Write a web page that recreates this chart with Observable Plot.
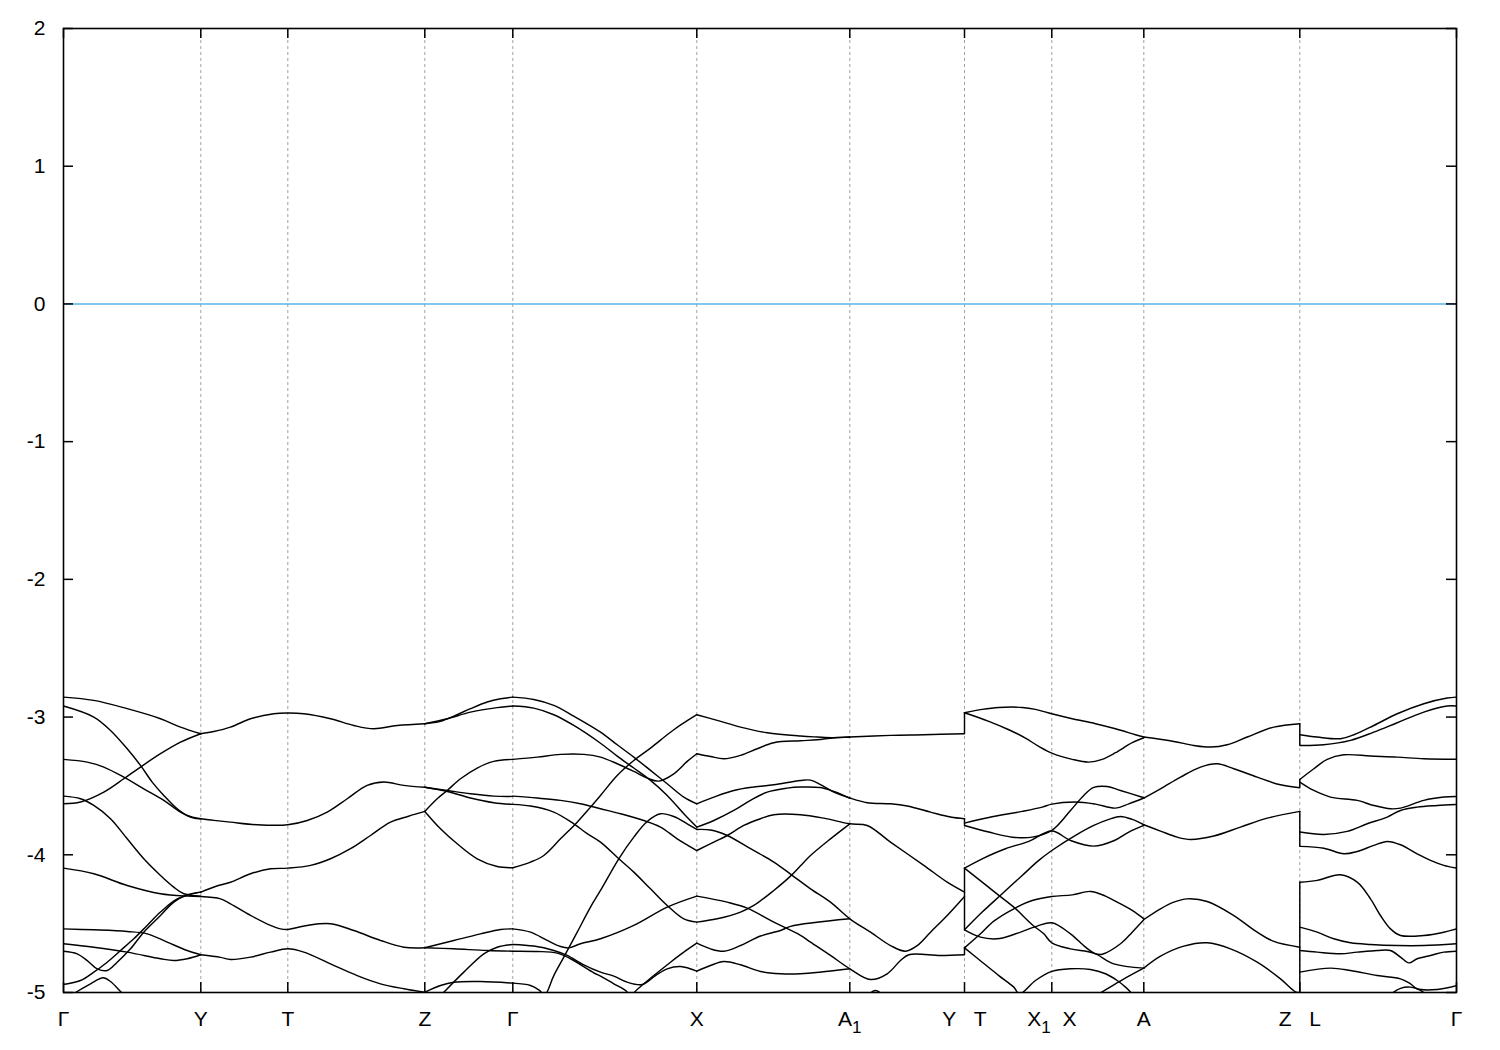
<!DOCTYPE html>
<html><head><meta charset="utf-8">
<script src="https://cdn.jsdelivr.net/npm/d3@7"></script>
<script src="https://cdn.jsdelivr.net/npm/@observablehq/plot@0.6"></script>
<style>body{margin:0;background:#fff;} svg{display:block}</style>
</head><body><div id="chart"></div>
<script>
// high-symmetry points along the k-path
const kPoints = [0, 1.373, 2.243, 3.613, 4.493, 6.333, 7.863, 9.01, 9.883, 10.803, 12.363, 13.93];
const kLabels = [["Γ"],["Y"],["T"],["Z"],["Γ"],["X"],["A","1"],["Y   T"],["X","1","  X"],["A"],["Z   L"],["Γ"]];
const yTicks = [-5, -4, -3, -2, -1, 0, 1, 2];
const fermiLevel = [0];

// band energies (eV) along each path segment: [k, E]
const segGY = [
 [[0,-2.855],[0.303,-2.879],[0.637,-2.939],[0.97,-3.012],[1.17,-3.073],[1.373,-3.121]],
 [[0,-2.92],[0.303,-3.0],[0.47,-3.097],[0.637,-3.23],[0.77,-3.351],[0.887,-3.472],[1.003,-3.569],[1.137,-3.666],[1.237,-3.714],[1.373,-3.738]],
 [[0,-3.307],[0.237,-3.327],[0.403,-3.363],[0.603,-3.436],[0.803,-3.521],[1.003,-3.605],[1.17,-3.69],[1.303,-3.734],[1.373,-3.738]],
 [[0,-3.574],[0.17,-3.593],[0.303,-3.642],[0.47,-3.738],[0.637,-3.884],[0.803,-4.029],[0.97,-4.15],[1.103,-4.235],[1.203,-4.283],[1.373,-4.30]],
 [[0,-3.63],[0.17,-3.617],[0.403,-3.545],[0.603,-3.448],[0.77,-3.363],[0.97,-3.266],[1.17,-3.182],[1.373,-3.121]],
 [[0,-4.097],[0.303,-4.138],[0.637,-4.223],[0.97,-4.283],[1.237,-4.30],[1.373,-4.303]],
 [[0,-4.538],[0.303,-4.545],[0.637,-4.557],[0.837,-4.574],[1.037,-4.634],[1.237,-4.695],[1.373,-4.726]],
 [[0,-4.646],[0.303,-4.671],[0.637,-4.707],[0.97,-4.755],[1.103,-4.768],[1.237,-4.755],[1.373,-4.726]],
 [[0,-4.70],[0.137,-4.719],[0.237,-4.768],[0.337,-4.828],[0.437,-4.84],[0.537,-4.78],[0.67,-4.683],[0.803,-4.562],[0.97,-4.441],[1.103,-4.344],[1.237,-4.29],[1.373,-4.271]],
 [[0,-4.942],[0.17,-4.913],[0.303,-4.852],[0.437,-4.78],[0.57,-4.695],[0.703,-4.61],[0.837,-4.513],[0.97,-4.416],[1.137,-4.32],[1.373,-4.271]],
 [[0.04,-5.03],[0.137,-4.993],[0.27,-4.937],[0.397,-4.893],[0.47,-4.92],[0.57,-4.993],[0.62,-5.03]]
];
const segYTZ = [
 [[1.373,-3.121],[1.503,-3.105],[1.67,-3.073],[1.87,-3.012],[2.103,-2.976],[2.243,-2.971],[2.403,-2.976],[2.67,-3.012],[2.903,-3.061],[3.103,-3.085],[3.337,-3.061],[3.613,-3.048]],
 [[1.373,-3.738],[1.503,-3.75],[1.67,-3.763],[1.937,-3.782],[2.243,-3.782],[2.437,-3.751],[2.637,-3.69],[2.837,-3.593],[3.037,-3.496],[3.203,-3.472],[3.403,-3.496],[3.613,-3.51]],
 [[1.373,-4.271],[1.52,-4.23],[1.67,-4.199],[1.87,-4.138],[2.07,-4.102],[2.243,-4.097],[2.47,-4.077],[2.67,-4.029],[2.87,-3.956],[3.07,-3.86],[3.27,-3.763],[3.45,-3.72],[3.613,-3.685]],
 [[1.373,-4.303],[1.57,-4.32],[1.67,-4.356],[1.87,-4.44],[2.07,-4.513],[2.17,-4.538],[2.243,-4.542],[2.437,-4.513],[2.67,-4.501],[2.903,-4.55],[3.17,-4.622],[3.403,-4.671],[3.613,-4.675]],
 [[1.373,-4.726],[1.57,-4.745],[1.67,-4.76],[1.87,-4.743],[2.07,-4.707],[2.243,-4.683],[2.403,-4.707],[2.67,-4.792],[2.937,-4.877],[3.17,-4.937],[3.403,-4.973],[3.613,-4.998]]
];
const segZG = [
 [[3.613,-3.048],[3.77,-3.031],[3.903,-2.993],[4.07,-2.939],[4.237,-2.891],[4.37,-2.867],[4.493,-2.855]],
 [[3.613,-3.048],[3.837,-3.012],[4.07,-2.964],[4.303,-2.935],[4.493,-2.92]],
 [[3.613,-3.51],[3.837,-3.533],[4.07,-3.557],[4.303,-3.574],[4.493,-3.576]],
 [[3.613,-3.51],[3.837,-3.54],[4.07,-3.588],[4.303,-3.622],[4.493,-3.634]],
 [[3.613,-3.685],[3.737,-3.593],[3.837,-3.533],[3.97,-3.448],[4.137,-3.37],[4.303,-3.322],[4.493,-3.307]],
 [[3.613,-3.685],[3.77,-3.811],[3.937,-3.92],[4.137,-4.029],[4.337,-4.085],[4.493,-4.094]],
 [[3.613,-4.675],[3.903,-4.622],[4.17,-4.574],[4.37,-4.542],[4.493,-4.538]],
 [[3.613,-4.675],[3.903,-4.683],[4.237,-4.695],[4.493,-4.70]],
 [[3.76,-5.03],[3.803,-4.998],[4.003,-4.852],[4.203,-4.719],[4.337,-4.671],[4.493,-4.651]],
 [[3.613,-4.998],[3.77,-4.949],[3.903,-4.925],[4.17,-4.92],[4.493,-4.932]]
];
const segGX = [
 [[4.493,-2.855],[4.703,-2.872],[4.903,-2.915],[5.103,-2.993],[5.37,-3.109],[5.537,-3.201],[5.703,-3.291],[5.87,-3.387],[6.037,-3.484],[6.203,-3.581],[6.333,-3.63]],
 [[4.493,-2.92],[4.703,-2.935],[4.903,-2.983],[5.103,-3.061],[5.37,-3.19],[5.537,-3.283],[5.703,-3.37],[5.87,-3.46],[6.037,-3.569],[6.203,-3.702],[6.333,-3.799]],
 [[4.493,-3.307],[4.737,-3.291],[4.97,-3.271],[5.203,-3.271],[5.37,-3.291],[5.537,-3.339],[5.703,-3.395],[5.837,-3.443],[5.953,-3.465],[6.103,-3.412],[6.237,-3.322],[6.333,-3.266]],
 [[4.493,-4.094],[4.67,-4.053],[4.803,-4.005],[4.97,-3.884],[5.137,-3.763],[5.27,-3.654],[5.37,-3.569],[5.537,-3.424],[5.703,-3.315],[5.87,-3.225],[6.103,-3.092],[6.333,-2.983]],
 [[4.493,-3.574],[4.737,-3.588],[4.97,-3.605],[5.17,-3.63],[5.37,-3.666],[5.57,-3.702],[5.803,-3.751],[5.97,-3.799],[6.137,-3.884],[6.333,-3.969]],
 [[4.493,-3.634],[4.67,-3.646],[4.903,-3.69],[5.103,-3.775],[5.237,-3.847],[5.37,-3.908],[5.553,-4.029],[5.703,-4.126],[5.87,-4.247],[6.037,-4.368],[6.203,-4.465],[6.333,-4.489]],
 [[4.493,-4.932],[4.67,-4.949],[4.76,-4.985],[4.81,-5.02],[4.903,-4.877],[5.003,-4.743],[5.137,-4.562],[5.27,-4.38],[5.37,-4.259],[5.553,-4.029],[5.703,-3.872],[5.837,-3.758],[5.97,-3.702],[6.103,-3.722],[6.237,-3.775],[6.333,-3.816]],
 [[4.493,-4.538],[4.67,-4.562],[4.837,-4.622],[4.97,-4.666],[5.053,-4.676],[5.17,-4.646],[5.37,-4.61],[5.703,-4.513],[6.037,-4.38],[6.333,-4.30]],
 [[4.493,-4.651],[4.703,-4.663],[4.903,-4.695],[5.037,-4.731],[5.203,-4.799],[5.37,-4.852],[5.503,-4.881],[5.637,-4.925],[5.787,-4.942],[5.92,-4.877],[6.037,-4.828],[6.17,-4.811],[6.333,-4.845]],
 [[4.493,-4.70],[4.737,-4.702],[4.937,-4.714],[5.07,-4.755],[5.303,-4.857],[5.37,-4.881],[5.503,-4.937],[5.62,-4.985],[5.67,-5.02],[5.737,-4.978],[5.903,-4.877],[6.07,-4.78],[6.203,-4.707],[6.333,-4.642]]
];
const segXAY = [
 [[6.333,-2.983],[6.537,-3.024],[6.77,-3.073],[7.037,-3.114],[7.37,-3.138],[7.537,-3.145],[7.703,-3.15],[7.863,-3.145],[8.27,-3.133],[8.603,-3.128],[9.01,-3.121]],
 [[6.333,-3.266],[6.47,-3.286],[6.603,-3.303],[6.77,-3.278],[6.937,-3.23],[7.103,-3.186],[7.37,-3.172],[7.537,-3.165],[7.703,-3.15],[7.863,-3.145]],
 [[6.333,-3.63],[6.503,-3.581],[6.703,-3.533],[6.903,-3.508],[7.103,-3.492],[7.37,-3.46],[7.47,-3.458],[7.57,-3.49],[7.703,-3.545],[7.863,-3.588],[8.037,-3.622],[8.27,-3.63],[8.437,-3.646],[8.67,-3.69],[8.87,-3.726],[9.01,-3.738]],
 [[6.333,-3.799],[6.503,-3.751],[6.703,-3.678],[6.87,-3.605],[7.037,-3.545],[7.237,-3.516],[7.37,-3.508],[7.57,-3.512],[7.703,-3.54],[7.863,-3.588]],
 [[6.333,-3.816],[6.47,-3.82],[6.637,-3.86],[6.87,-3.956],[7.103,-4.053],[7.27,-4.14],[7.47,-4.247],[7.67,-4.344],[7.863,-4.465],[8.07,-4.562],[8.27,-4.659],[8.42,-4.70],[8.537,-4.659],[8.67,-4.562],[8.837,-4.441],[9.01,-4.303]],
 [[6.333,-3.969],[6.503,-3.908],[6.637,-3.86],[6.803,-3.787],[6.97,-3.738],[7.103,-3.709],[7.37,-3.709],[7.603,-3.734],[7.863,-3.775],[8.037,-3.787],[8.27,-3.908],[8.603,-4.077],[8.837,-4.199],[9.01,-4.271]],
 [[6.333,-4.489],[6.537,-4.465],[6.77,-4.416],[6.903,-4.368],[7.103,-4.259],[7.27,-4.155],[7.37,-4.08],[7.47,-4.005],[7.67,-3.884],[7.863,-3.775]],
 [[6.333,-4.30],[6.637,-4.344],[6.837,-4.387],[7.103,-4.489],[7.37,-4.585],[7.47,-4.634],[7.67,-4.731],[7.863,-4.828],[8.07,-4.906],[8.237,-4.864],[8.37,-4.768],[8.453,-4.726],[8.77,-4.731],[9.01,-4.726]],
 [[6.333,-4.642],[6.47,-4.683],[6.603,-4.70],[6.77,-4.659],[6.97,-4.59],[7.17,-4.55],[7.27,-4.52],[7.863,-4.465]],
 [[6.333,-4.845],[6.47,-4.804],[6.603,-4.775],[6.77,-4.799],[6.97,-4.847],[7.17,-4.864],[7.37,-4.864],[7.863,-4.828]],
 [[8.03,-5.03],[8.12,-4.985],[8.21,-5.03]]
];
const segTXA = [
 [[9.01,-2.969],[9.187,-2.944],[9.353,-2.93],[9.587,-2.93],[9.72,-2.944],[9.883,-2.976],[10.087,-3.012],[10.32,-3.048],[10.52,-3.085],[10.72,-3.128],[10.803,-3.145]],
 [[9.01,-2.969],[9.253,-3.031],[9.453,-3.092],[9.62,-3.153],[9.753,-3.213],[9.883,-3.262],[10.087,-3.307],[10.253,-3.327],[10.387,-3.307],[10.52,-3.259],[10.687,-3.186],[10.803,-3.15]],
 [[9.01,-3.77],[9.253,-3.729],[9.587,-3.685],[9.787,-3.654],[9.883,-3.632],[10.12,-3.617],[10.32,-3.632],[10.52,-3.661],[10.653,-3.63],[10.803,-3.588]],
 [[9.01,-3.787],[9.253,-3.835],[9.487,-3.872],[9.687,-3.872],[9.883,-3.823],[10.07,-3.678],[10.203,-3.569],[10.303,-3.511],[10.437,-3.504],[10.57,-3.533],[10.803,-3.586]],
 [[9.01,-4.097],[9.187,-4.029],[9.42,-3.956],[9.653,-3.903],[9.883,-3.828],[10.07,-3.896],[10.303,-3.937],[10.503,-3.898],[10.653,-3.835],[10.803,-3.787]],
 [[9.01,-4.545],[9.187,-4.416],[9.387,-4.283],[9.587,-4.15],[9.753,-4.041],[9.883,-3.969],[10.137,-3.852],[10.303,-3.787],[10.453,-3.743],[10.57,-3.722],[10.687,-3.743],[10.803,-3.782]],
 [[9.01,-4.097],[9.187,-4.199],[9.353,-4.295],[9.503,-4.38],[9.687,-4.508],[9.803,-4.574],[9.883,-4.639],[10.07,-4.683],[10.303,-4.714],[10.503,-4.792],[10.803,-4.823]],
 [[9.01,-4.545],[9.17,-4.598],[9.337,-4.61],[9.503,-4.579],[9.737,-4.518],[9.883,-4.494],[10.07,-4.574],[10.22,-4.671],[10.32,-4.719],[10.387,-4.722],[10.57,-4.646],[10.687,-4.562],[10.803,-4.472]],
 [[9.01,-4.676],[9.17,-4.574],[9.303,-4.482],[9.503,-4.392],[9.687,-4.332],[9.883,-4.303],[10.087,-4.291],[10.27,-4.266],[10.42,-4.30],[10.537,-4.344],[10.687,-4.404],[10.803,-4.465]],
 [[9.01,-4.676],[9.187,-4.78],[9.353,-4.877],[9.503,-4.961],[9.56,-5.01],[9.72,-4.913],[9.883,-4.847],[10.07,-4.828],[10.27,-4.833],[10.42,-4.864],[10.537,-4.913],[10.62,-4.961],[10.687,-5.01]],
 [[10.353,-5.01],[10.52,-4.937],[10.653,-4.881],[10.803,-4.823]]
];
const segAZ = [
 [[10.803,-3.145],[11.103,-3.177],[11.303,-3.206],[11.47,-3.218],[11.637,-3.201],[11.837,-3.145],[12.103,-3.073],[12.363,-3.048]],
 [[10.803,-3.588],[10.97,-3.521],[11.17,-3.436],[11.37,-3.363],[11.537,-3.339],[11.703,-3.375],[11.937,-3.436],[12.17,-3.492],[12.363,-3.513]],
 [[10.803,-3.782],[10.97,-3.828],[11.137,-3.872],[11.27,-3.889],[11.503,-3.864],[11.77,-3.799],[12.037,-3.734],[12.363,-3.685]],
 [[10.803,-4.47],[10.97,-4.392],[11.103,-4.344],[11.237,-4.32],[11.437,-4.339],[11.703,-4.441],[11.937,-4.562],[12.103,-4.629],[12.363,-4.671]],
 [[10.803,-4.823],[10.97,-4.736],[11.203,-4.663],[11.437,-4.639],[11.67,-4.683],[11.937,-4.78],[12.17,-4.901],[12.32,-4.995],[12.363,-5.0]]
];
const segLG = [
 [[12.363,-3.128],[12.537,-3.145],[12.77,-3.157],[12.903,-3.128],[13.103,-3.061],[13.337,-2.976],[13.603,-2.903],[13.837,-2.862],[13.93,-2.855]],
 [[12.363,-3.206],[12.603,-3.201],[12.87,-3.169],[13.103,-3.109],[13.337,-3.041],[13.603,-2.964],[13.837,-2.92],[13.93,-2.92]],
 [[12.363,-3.453],[12.503,-3.375],[12.637,-3.307],[12.803,-3.274],[13.07,-3.283],[13.337,-3.291],[13.603,-3.303],[13.93,-3.307]],
 [[12.363,-3.472],[12.503,-3.533],[12.67,-3.581],[12.937,-3.605],[13.103,-3.642],[13.27,-3.666],[13.37,-3.661],[13.603,-3.605],[13.803,-3.581],[13.93,-3.576]],
 [[12.363,-3.835],[12.603,-3.852],[12.837,-3.83],[13.037,-3.775],[13.237,-3.726],[13.37,-3.678],[13.537,-3.654],[13.737,-3.642],[13.93,-3.634]],
 [[12.363,-3.939],[12.603,-3.952],[12.803,-3.993],[12.937,-3.976],[13.103,-3.932],[13.237,-3.903],[13.37,-3.927],[13.537,-3.993],[13.67,-4.041],[13.803,-4.077],[13.93,-4.097]],
 [[12.363,-4.199],[12.537,-4.186],[12.77,-4.145],[12.937,-4.199],[13.07,-4.32],[13.17,-4.441],[13.27,-4.538],[13.37,-4.586],[13.603,-4.586],[13.803,-4.562],[13.93,-4.538]],
 [[12.363,-4.525],[12.537,-4.562],[12.703,-4.61],[12.87,-4.639],[13.07,-4.651],[13.337,-4.659],[13.603,-4.659],[13.93,-4.646]],
 [[12.363,-4.695],[12.537,-4.707],[12.77,-4.719],[12.937,-4.707],[13.137,-4.695],[13.27,-4.695],[13.37,-4.743],[13.453,-4.785],[13.537,-4.755],[13.67,-4.731],[13.803,-4.707],[13.93,-4.70]],
 [[12.363,-4.852],[12.67,-4.823],[12.87,-4.84],[13.137,-4.877],[13.37,-4.901],[13.47,-4.937],[13.537,-4.973],[13.737,-4.978],[13.93,-4.95]],
 [[13.24,-5.03],[13.37,-4.97],[13.47,-4.961],[13.57,-4.985],[13.65,-5.03]]
];
// discontinuities of the path (Y|T and Z|L): [k, E from, E to]
const jumps = [
 [9.01,-3.121,-2.969],[9.01,-3.738,-3.787],[9.01,-4.097,-4.545],[9.01,-4.726,-4.676],
 [12.363,-3.048,-3.206],[12.363,-3.513,-3.453],[12.363,-3.685,-3.939],[12.363,-4.199,-5.0]
];

const segments = {segGY, segYTZ, segZG, segGX, segXAY, segTXA, segAZ, segLG};
const rows = [];
for (const [name, lines] of Object.entries(segments)) {
  lines.forEach((pts, j) => pts.forEach(([k, e]) => rows.push({k, e, id: name + "_" + j})));
}

const W = 1500, H = 1050, mL = 63, mR = 44, mT = 28, mB = 58;
const plotW = W - mL - mR, plotH = H - mT - mB;
const tickLen = 10;
const FS = 21;
const labelText = d => kLabels[kPoints.indexOf(d)].join("").replace(/ /g, "\u00a0");

const chart = Plot.plot({
  width: W, height: H,
  marginLeft: mL, marginRight: mR, marginTop: mT, marginBottom: mB,
  style: {fontFamily: "'Liberation Sans', Arial, Helvetica, sans-serif", fontSize: FS + "px", background: "#fff", color: "#000", overflow: "visible"},
  x: {domain: [kPoints[0], kPoints[kPoints.length - 1]], label: null},
  y: {domain: [yTicks[0], yTicks[yTicks.length - 1]], label: null},
  marks: [
    Plot.ruleX(kPoints.slice(1, -1), {x: d => d, stroke: "#a0a0a0", strokeWidth: 1, strokeDasharray: "3,3"}),
    Plot.ruleY(fermiLevel, {y: d => d, stroke: "#56b4e9", strokeWidth: 1.5}),
    Plot.line(rows, {x: "k", y: "e", z: "id", stroke: "#000", strokeWidth: 1.45, curve: "catmull-rom", clip: true}),
    Plot.ruleX(jumps, {x: d => d[0], y1: d => d[1], y2: d => d[2], stroke: "#000", strokeWidth: 1.45}),
    Plot.frame({stroke: "#000", strokeWidth: 1.6}),
    Plot.tickY(yTicks, {y: d => d, insetRight: plotW - tickLen, stroke: "#000", strokeWidth: 1.5}),
    Plot.tickY(yTicks, {y: d => d, insetLeft: plotW - tickLen, stroke: "#000", strokeWidth: 1.5}),
    Plot.tickX(kPoints, {x: d => d, insetBottom: plotH - tickLen, stroke: "#000", strokeWidth: 1.5}),
    Plot.tickX(kPoints, {x: d => d, insetTop: plotH - tickLen, stroke: "#000", strokeWidth: 1.5}),
    Plot.axisY(yTicks, {tickSize: 0, tickPadding: 18, tickFormat: d => String(d), label: null, fontSize: FS}),
    Plot.axisX(kPoints, {tickSize: 0, tickPadding: 19, tickFormat: labelText, label: null, fontSize: FS})
  ]
});
document.getElementById("chart").appendChild(chart);

const root = d3.select(chart);
root.selectAll('g[aria-label$="tick label"]').attr("font-size", FS);
root.selectAll('g[aria-label$="tick label"] text').style("font-size", FS + "px");
// subscripts for A1 and X1
root.selectAll('g[aria-label="x-axis tick label"] text').each(function(_, i) {
  const parts = kLabels[i];
  if (!parts || parts.length < 2) return;
  const t = d3.select(this);
  t.text(null);
  t.append("tspan").text(parts[0]);
  t.append("tspan").style("font-size", "17px").attr("dy", 7).text(parts[1]);
  if (parts[2]) t.append("tspan").attr("dy", -7).text(parts[2].replace(/ /g, "\u00a0"));
});
</script>
</body></html>
